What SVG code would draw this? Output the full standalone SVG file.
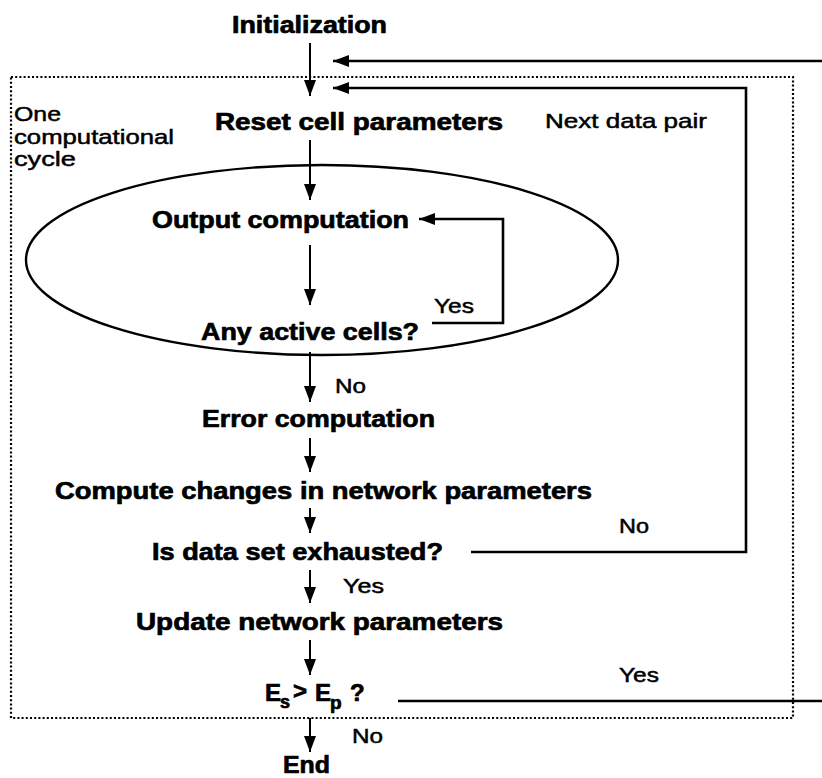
<svg xmlns="http://www.w3.org/2000/svg" width="822" height="778" viewBox="0 0 822 778">
  <style>
    .step { font-family: "Liberation Sans", Arial, sans-serif; font-weight: bold; font-size: 24px; fill: #000; stroke: #000; stroke-width: 0.7; stroke-linejoin: round; }
    .label { font-family: "Liberation Sans", Arial, sans-serif; font-size: 21px; fill: #000; stroke: #000; stroke-width: 0.5; }
    .flow { fill: none; stroke: #000; stroke-width: 2; }
    .loop { fill: none; stroke: #000; stroke-width: 2.6; }
    .cycle { fill: none; stroke: #000; stroke-width: 2.2; stroke-dasharray: 2 2.2; }
  </style>
  <defs>
    <marker id="head" viewBox="0 0 16 12" refX="16" refY="6" markerWidth="16" markerHeight="12" markerUnits="userSpaceOnUse" orient="auto">
      <path d="M0,0 L16,6 L0,12 Z" fill="#000"/>
    </marker>
  </defs>

  <!-- dotted boundary of one computational cycle -->
  <g id="cycle-box">
    <rect class="cycle" x="11" y="77" width="782" height="641"/>
    <text class="label" x="14" y="121" textLength="47" lengthAdjust="spacingAndGlyphs">One</text>
    <text class="label" x="14" y="144" textLength="160" lengthAdjust="spacingAndGlyphs">computational</text>
    <text class="label" x="14" y="166" textLength="62" lengthAdjust="spacingAndGlyphs">cycle</text>
  </g>

  <!-- inner loop region -->
  <g id="inner-loop">
    <ellipse cx="322" cy="260" rx="296" ry="95" fill="none" stroke="#000" stroke-width="2.4"/>
  </g>

  <g id="initialization"><text class="step" x="232" y="33" textLength="155" lengthAdjust="spacingAndGlyphs">Initialization</text></g>
  <g id="reset"><text class="step" x="215" y="130" textLength="288" lengthAdjust="spacingAndGlyphs">Reset cell parameters</text></g>
  <g id="output"><text class="step" x="152" y="228" textLength="257" lengthAdjust="spacingAndGlyphs">Output computation</text></g>
  <g id="active"><text class="step" x="201" y="340" textLength="218" lengthAdjust="spacingAndGlyphs">Any active cells?</text></g>
  <g id="error"><text class="step" x="202" y="427" textLength="233" lengthAdjust="spacingAndGlyphs">Error computation</text></g>
  <g id="compute"><text class="step" x="55" y="499" textLength="537" lengthAdjust="spacingAndGlyphs">Compute changes in network parameters</text></g>
  <g id="exhausted"><text class="step" x="152" y="560" textLength="291" lengthAdjust="spacingAndGlyphs">Is data set exhausted?</text></g>
  <g id="update"><text class="step" x="136" y="630" textLength="367" lengthAdjust="spacingAndGlyphs">Update network parameters</text></g>
  <g id="compare">
    <text class="step">
      <tspan x="265" y="701">E</tspan><tspan x="280" y="708" font-size="18">s</tspan><tspan x="293" y="699">&gt;</tspan><tspan x="315" y="701">E</tspan><tspan x="330" y="709" font-size="19">p</tspan><tspan x="350" y="701">?</tspan>
    </text>
  </g>
  <g id="end"><text class="step" x="283" y="773" textLength="47" lengthAdjust="spacingAndGlyphs">End</text></g>

  <!-- connectors -->
  <g id="connectors">
    <path class="flow" d="M310 43 V96" marker-end="url(#head)"/>
    <path class="loop" d="M822 61 H333" marker-end="url(#head)"/>
    <path class="flow" d="M310 140 V200" marker-end="url(#head)"/>
    <path class="flow" d="M310 245 V305" marker-end="url(#head)"/>
    <path class="loop" d="M432 323 H503 V219 H419" marker-end="url(#head)"/>
    <path class="flow" d="M310 352 V402" marker-end="url(#head)"/>
    <path class="flow" d="M310 438 V472" marker-end="url(#head)"/>
    <path class="flow" d="M310 508 V533" marker-end="url(#head)"/>
    <path class="loop" d="M471 552 H746 V88 H333" marker-end="url(#head)"/>
    <path class="flow" d="M310 570 V603" marker-end="url(#head)"/>
    <path class="flow" d="M310 640 V675" marker-end="url(#head)"/>
    <path class="loop" d="M398 701 H822"/>
    <path class="flow" d="M310 718 V752" marker-end="url(#head)"/>
  </g>

  <!-- connector labels -->
  <g id="connector-labels">
    <text class="label" x="545" y="128" textLength="162" lengthAdjust="spacingAndGlyphs">Next data pair</text>
    <text class="label" x="434" y="313" textLength="40" lengthAdjust="spacingAndGlyphs">Yes</text>
    <text class="label" x="335" y="393" textLength="31" lengthAdjust="spacingAndGlyphs">No</text>
    <text class="label" x="619" y="533" textLength="30" lengthAdjust="spacingAndGlyphs">No</text>
    <text class="label" x="343" y="593" textLength="41" lengthAdjust="spacingAndGlyphs">Yes</text>
    <text class="label" x="619" y="682" textLength="40" lengthAdjust="spacingAndGlyphs">Yes</text>
    <text class="label" x="352" y="743" textLength="31" lengthAdjust="spacingAndGlyphs">No</text>
  </g>
</svg>
